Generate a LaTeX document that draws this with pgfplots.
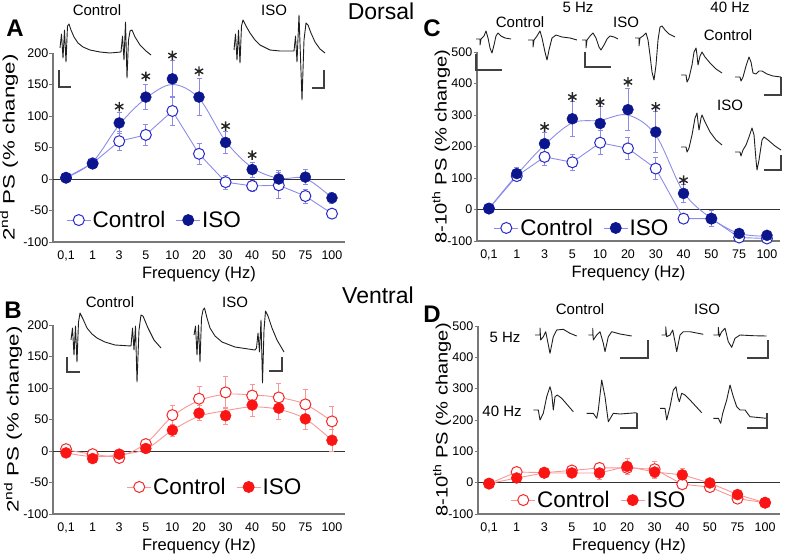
\documentclass[border=0pt]{standalone}
\usepackage{fontspec}
\setmainfont{Liberation Sans}
\usepackage{pgfplots}
\pgfplotsset{compat=1.18}
\definecolor{bdark}{RGB}{12,22,140}
\definecolor{bopen}{RGB}{40,40,200}
\definecolor{bline}{RGB}{140,140,232}
\definecolor{rdark}{RGB}{250,20,20}
\definecolor{ropen}{RGB}{245,40,40}
\definecolor{rline}{RGB}{250,150,150}
\definecolor{spinec}{RGB}{120,120,120}
\definecolor{zeroc}{RGB}{50,50,50}
\newcommand{\fs}[1]{\fontsize{#1}{#1}\selectfont}
\pgfplotsset{
 panel/.style={scale only axis, anchor=south west,
  axis x line*=bottom, axis y line*=left,
  axis line style={spinec, line width=1.4pt, -},
  xtick={0,...,10}, xticklabels={{0,1},1,3,5,10,20,30,40,50,75,100},
  xtick style={draw=none},
  ytick style={spinec, line width=1pt},
  tick align=outside, major tick length=3.5pt,
  ticklabel style={font=\fs{12.5}},
  yticklabel style={inner sep=1pt},
  xticklabel style={yshift=-2pt},
  /pgf/number format/assume math mode=true,
  xlabel={Frequency (Hz)},
  label style={font=\fs{16.5}},
  xlabel style={at={(axis description cs:0.5,-0.172)}, anchor=center},
  clip=false,
  legend columns=2,
  legend image code/.code={\draw[mark repeat=2,mark phase=2] plot coordinates {(0pt,0pt)(12pt,0pt)(24pt,0pt)};},
  legend style={draw=none, fill=none, anchor=west, inner sep=0pt,
    nodes={inner sep=1.5pt, font=\fs{22.5}},
    /tikz/every even column/.append style={column sep=9pt}},
 },
 bluel/.style={bline, line width=0.9pt, forget plot},
 redl/.style={rline, line width=0.9pt, forget plot},
 bopenm/.style={only marks, forget plot, mark=*, mark size=5.5pt, mark options={fill=white, draw=bopen, line width=1pt},
   error bars/.cd, y dir=both, y explicit, error bar style={bline, line width=0.8pt}, error mark options={rotate=90, bline, mark size=2.5pt, line width=0.8pt}},
 bfillm/.style={only marks, forget plot, mark=*, mark size=5.5pt, mark options={fill=bdark, draw=bdark},
   error bars/.cd, y dir=both, y explicit, error bar style={bline, line width=0.8pt}, error mark options={rotate=90, bline, mark size=2.5pt, line width=0.8pt}},
 ropenm/.style={only marks, forget plot, mark=*, mark size=5.5pt, mark options={fill=white, draw=ropen, line width=1pt},
   error bars/.cd, y dir=both, y explicit, error bar style={rline, line width=0.8pt}, error mark options={rotate=90, rline, mark size=2.5pt, line width=0.8pt}},
 rfillm/.style={only marks, forget plot, mark=*, mark size=5.5pt, mark options={fill=rdark, draw=rdark},
   error bars/.cd, y dir=both, y explicit, error bar style={rline, line width=0.8pt}, error mark options={rotate=90, rline, mark size=2.5pt, line width=0.8pt}},
 astm/.style={only marks, forget plot, mark=asterisk, mark size=4.8pt, mark options={black!85, line width=1.4pt}},
 tr/.style={black!88, line width=0.9pt, line join=round, forget plot},
 sb/.style={black!75, line width=1.3pt, forget plot},
}
\begin{document}
\begin{tikzpicture}[x=1pt,y=1pt]
\useasboundingbox (0,0) rectangle (791,555);

% ---------------- Panel A ----------------
\begin{axis}[panel, at={(53pt,313pt)}, width=292pt, height=189pt,
  xmin=-0.49, xmax=10.49, ymin=-100, ymax=200, ytick={-100,-50,...,200},
  ylabel={\scalebox{1.35}[1]{2\textsuperscript{nd} PS (\% change)}},
  ylabel style={at={(axis description cs:-0.151,0.5)}, anchor=center},
  legend style={at={(axis description cs:0.045,0.116)}}]
\addplot[zeroc, line width=0.9pt, forget plot] coordinates {(-0.49,0) (10.49,0)};
\addplot[bluel] coordinates {(0,2) (1,25) (2,60) (3,70) (4,108) (5,40) (6,-5) (7,-11) (8,-10) (9,-27) (10,-55)};
\addplot[bluel, smooth, tension=0.55] coordinates {(0,2) (1,27) (2,86) (3,128) (4,150) (5,128) (6,60) (7,18) (8,1) (9,1) (10,-30)};
\addplot[bopenm] coordinates {(0,2)+-(0,3) (1,25)+-(0,5) (2,60)+-(0,15) (3,70)+-(0,16) (4,108)+-(0,23) (5,40)+-(0,17) (6,-5)+-(0,11) (7,-11)+-(0,8) (8,-10)+-(0,20) (9,-27)+-(0,11) (10,-55)+-(0,5)};
\addplot[bfillm] coordinates {(0,2)+-(0,3) (1,24)+-(0,5) (2,89)+-(0,16) (3,130)+-(0,20) (4,159)+-(0,29) (5,130)+-(0,29) (6,58)+-(0,18) (7,15)+-(0,12) (8,0)+-(0,14) (9,3)+-(0,12) (10,-30)+-(0,8)};
\addplot[astm] coordinates {(2,115) (3,163) (4,196) (5,171) (6,84) (7,38)};
\addlegendimage{bline, line width=0.9pt, mark=*, mark size=5.5pt, mark options={fill=white, draw=bopen, line width=1pt}}
\addlegendentry{Control}
\addlegendimage{bline, line width=0.9pt, mark=*, mark size=5.5pt, mark options={fill=bdark, draw=bdark}}
\addlegendentry{ISO}
\end{axis}

% ---------------- Panel B ----------------
\begin{axis}[panel, at={(53pt,41pt)}, width=292pt, height=189pt,
  xmin=-0.49, xmax=10.49, ymin=-100, ymax=200, ytick={-100,-50,...,200},
  ylabel={\scalebox{1.35}[1]{2\textsuperscript{nd} PS (\% change)}},
  ylabel style={at={(axis description cs:-0.137,0.5)}, anchor=center},
  legend style={at={(axis description cs:0.252,0.143)}}]
\addplot[zeroc, line width=0.9pt, forget plot] coordinates {(-0.49,0) (10.49,0)};
\addplot[redl, smooth, tension=0.55] coordinates {(0,2) (1,-5) (2,-8) (3,12) (4,55) (5,80) (6,90) (7,89) (8,85) (9,74) (10,47)};
\addplot[redl, smooth, tension=0.55] coordinates {(0,-3) (1,-9) (2,-6) (3,3) (4,33) (5,55) (6,64) (7,70) (8,66) (9,51) (10,17)};
\addplot[ropenm] coordinates {(0,3)+-(0,3) (1,-5)+-(0,3) (2,-11)+-(0,4) (3,11)+-(0,7) (4,57)+-(0,15) (5,83)+-(0,19) (6,93)+-(0,26) (7,88)+-(0,17) (8,85)+-(0,23) (9,74)+-(0,23) (10,47)+-(0,24)};
\addplot[rfillm] coordinates {(0,-3)+-(0,3) (1,-12)+-(0,4) (2,-5)+-(0,4) (3,4)+-(0,5) (4,33)+-(0,10) (5,60)+-(0,12) (6,56)+-(0,14) (7,73)+-(0,18) (8,68)+-(0,18) (9,51)+-(0,17) (10,17)+-(0,17)};
\addlegendimage{rline, line width=0.9pt, mark=*, mark size=5.5pt, mark options={fill=white, draw=ropen, line width=1pt}}
\addlegendentry{Control}
\addlegendimage{rline, line width=0.9pt, mark=*, mark size=5.5pt, mark options={fill=rdark, draw=rdark}}
\addlegendentry{ISO}
\end{axis}

% ---------------- Panel C ----------------
\begin{axis}[panel, at={(477pt,314pt)}, width=303pt, height=189pt,
  xmin=-0.43, xmax=10.47, ymin=-100, ymax=500, ytick={-100,0,...,500},
  ylabel={\scalebox{1.22}[1]{8-10\textsuperscript{th} PS (\% change)}},
  ylabel style={at={(axis description cs:-0.119,0.5)}, anchor=center},
  legend style={at={(axis description cs:0.055,0.069)}}]
\addplot[zeroc, line width=0.9pt, forget plot] coordinates {(-0.43,0) (10.47,0)};
\addplot[bluel] coordinates {(0,3) (1,106) (2,167) (3,150) (4,212) (5,194) (6,130) (7,-29) (8,-29) (9,-89) (10,-92)};
\addplot[bluel, smooth, tension=0.55] coordinates {(0,3) (1,110) (2,205) (3,275) (4,283) (5,300) (6,236) (7,55) (8,-28) (9,-76) (10,-85)};
\addplot[bopenm] coordinates {(0,3)+-(0,3) (1,106)+-(0,10) (2,167)+-(0,28) (3,150)+-(0,25) (4,212)+-(0,38) (5,194)+-(0,35) (6,130)+-(0,35) (7,-29)+-(0,8) (8,-29)+-(0,25) (9,-89)+-(0,5) (10,-92)+-(0,5)};
\addplot[bfillm] coordinates {(0,3)+-(0,3) (1,114)+-(0,20) (2,209)+-(0,37) (3,288)+-(0,55) (4,273)+-(0,53) (5,317)+-(0,67) (6,246)+-(0,64) (7,51)+-(0,30) (8,-29)+-(0,25) (9,-76)+-(0,8) (10,-82)+-(0,8)};
\addplot[astm] coordinates {(2,262) (3,357) (4,341) (5,405) (6,326) (7,93)};
\addlegendimage{bline, line width=0.9pt, mark=*, mark size=5.5pt, mark options={fill=white, draw=bopen, line width=1pt}}
\addlegendentry{Control}
\addlegendimage{bline, line width=0.9pt, mark=*, mark size=5.5pt, mark options={fill=bdark, draw=bdark}}
\addlegendentry{ISO}
\end{axis}

% ---------------- Panel D ----------------
\begin{axis}[panel, at={(478pt,41pt)}, width=302pt, height=188pt,
  xmin=-0.4, xmax=10.54, ymin=-100, ymax=500, ytick={-100,0,...,500},
  ylabel={\scalebox{1.22}[1]{8-10\textsuperscript{th} PS (\% change)}},
  ylabel style={at={(axis description cs:-0.119,0.5)}, anchor=center},
  legend style={at={(axis description cs:0.108,0.074)}}]
\addplot[zeroc, line width=0.9pt, forget plot] coordinates {(-0.4,0) (10.54,0)};
\addplot[redl] coordinates {(0,-3) (1,34) (2,32) (3,39) (4,47) (5,47) (6,43) (7,-5) (8,-14) (9,-51) (10,-64)};
\addplot[redl] coordinates {(0,-3) (1,15) (2,31) (3,31) (4,31) (5,52) (6,34) (7,25) (8,-1) (9,-38) (10,-64)};
\addplot[ropenm] coordinates {(0,-3)+-(0,3) (1,34)+-(0,5) (2,32)+-(0,5) (3,39)+-(0,10) (4,47)+-(0,10) (5,47)+-(0,15) (6,43)+-(0,25) (7,-5)+-(0,8) (8,-14)+-(0,15) (9,-51)+-(0,8) (10,-64)+-(0,5)};
\addplot[rfillm] coordinates {(0,-3)+-(0,3) (1,15)+-(0,5) (2,31)+-(0,5) (3,31)+-(0,8) (4,31)+-(0,20) (5,52)+-(0,25) (6,34)+-(0,20) (7,25)+-(0,20) (8,-1)+-(0,10) (9,-38)+-(0,8) (10,-64)+-(0,5)};
\addlegendimage{rline, line width=0.9pt, mark=*, mark size=5.5pt, mark options={fill=white, draw=ropen, line width=1pt}}
\addlegendentry{Control}
\addlegendimage{rline, line width=0.9pt, mark=*, mark size=5.5pt, mark options={fill=rdark, draw=rdark}}
\addlegendentry{ISO}
\end{axis}

% ---------------- Overlay: traces and labels (pixel coordinates) ----------------
\begin{axis}[at={(0pt,0pt)}, anchor=south west, scale only axis, width=791pt, height=555pt,
  xmin=0, xmax=791, ymin=0, ymax=555, y dir=reverse, hide axis, clip=false]
% A control
\addplot[tr] coordinates {(60,48) (61.5,34) (63,58) (64.5,30) (66,62) (67.5,26) (69,24) (71,30) (74,37) (78,43) (83,47) (90,50) (100,52) (110,53) (121,52) (122.5,36) (124,60) (125.5,22) (127,78) (128.5,40) (130,31) (132,30) (135,37) (140,45) (146,51) (151,55)};
\addplot[sb] coordinates {(59,70) (59,87) (71,87)};
% A ISO
\addplot[tr] coordinates {(234,50) (235.5,34) (237,60) (238.5,30) (240,63) (241.5,26) (243,20) (246,26) (250,33) (255,40) (260,45) (270,50) (280,51) (294,51) (295.5,36) (297,62) (299,15) (302,100) (304,40) (306,23) (308,25) (311,33) (315,42) (320,49) (325,53)};
\addplot[sb] coordinates {(312,88) (324,88) (324,70)};
% B control
\addplot[tr] coordinates {(71,340) (72.5,328) (74,355) (75.5,326) (77,362) (78.5,322) (80,313) (83,319) (87,328) (92,334) (97,338) (105,342) (115,345) (131,346) (132.5,328) (134,350) (135.5,326) (137,382) (139,330) (141,315) (143,316) (148,328) (154,340) (161,348)};
\addplot[sb] coordinates {(67,357) (67,372) (80,372)};
% B ISO
\addplot[tr] coordinates {(194,335) (195.5,326) (197,355) (198.5,325) (200,362) (201.5,318) (203,310) (204.5,308) (207,318) (210,328) (215,336) (222,342) (235,347) (255,350) (256.5,348) (258,333) (259.5,352) (261,320) (262.5,383) (264,330) (265.5,311) (268,316) (272,328) (277,340) (284,352)};
\addplot[sb] coordinates {(269,371) (282,371) (282,357)};
% C 5 Hz control
\addplot[tr] coordinates {(476,39) (480,39) (480,45) (481,39) (484,36) (486,31) (488,38) (490,48) (492,53) (494,45) (496,36) (498,33) (501,36) (505,38) (511,39)};
\addplot[tr] coordinates {(528,40) (533,40) (533,47) (534,40) (537,36) (540,31) (542,38) (545,52) (547,60) (549,50) (552,38) (556,35) (562,37) (570,38) (577,40)};
\addplot[sb] coordinates {(476,54) (476,70) (502,70)};
% C 5 Hz ISO
\addplot[tr] coordinates {(582,40) (586,40) (586,48) (587,40) (590,36) (593,33) (596,38) (599,47) (601,50) (604,45) (607,39) (610,36) (614,37) (618,39)};
\addplot[tr] coordinates {(635,38) (639,38) (639,46) (640,38) (643,36) (646,33) (648,40) (650,55) (652,72) (654,80) (656,65) (658,40) (660,27) (662,26) (665,30) (669,34) (675,37)};
\addplot[sb] coordinates {(585,52) (585,67) (611,67)};
% C 40 Hz control
\addplot[tr] coordinates {(681,75) (686,75) (687,82) (689,78) (692,65) (694,52) (696,48) (697,55) (698,65) (700,56) (702,52) (705,57) (710,63) (716,69) (722,73)};
\addplot[tr] coordinates {(735,77) (740,77) (741,81) (743,77) (746,66) (749,57) (751,62) (753,73) (756,74) (759,71) (762,71) (767,74) (773,76) (781,77)};
\addplot[sb] coordinates {(764,95) (781,95) (781,77)};
% C 40 Hz ISO
\addplot[tr] coordinates {(681,147) (686,147) (687,152) (689,148) (692,135) (695,118) (697,113) (698,122) (699,130) (701,118) (702,115) (705,122) (710,132) (716,140) (722,145)};
\addplot[tr] coordinates {(735,152) (740,152) (741,156) (743,150) (746,145) (749,137) (752,128) (754,135) (756,160) (757,170) (759,160) (762,140) (764,137) (768,140) (775,146) (781,150)};
\addplot[sb] coordinates {(764,170) (781,170) (781,155)};
% D 5 Hz
\addplot[tr] coordinates {(535,335) (540,335) (540,328) (540.7,340) (543.3,336.7) (545.7,331.7) (547.7,341.7) (550,353.3) (553.3,336.7) (556.7,330) (563.3,329.3) (570,333.3) (576.7,336)};
\addplot[tr] coordinates {(588.3,335) (592.7,335) (592.7,328.3) (593.3,340) (596.7,335) (600,331.7) (603.3,343.3) (605,351.7) (608.3,336.7) (611.7,331.7) (620,334) (631.7,336)};
\addplot[sb] coordinates {(620,358) (648,358) (648,340)};
\addplot[tr] coordinates {(661.7,335) (665.7,335) (665.7,326.7) (666.7,336.7) (670,335) (672.7,330) (675,341.7) (676.7,351.7) (680,335) (683.3,331.7) (690,331.7) (703.3,334.3)};
\addplot[tr] coordinates {(713.3,335) (718.3,335) (718.3,327.3) (719.3,336.7) (721.7,331.7) (725,328.3) (728.3,341.7) (731.7,347.3) (735,338.3) (740,335) (753.3,335.7) (766.7,336)};
\addplot[sb] coordinates {(747,358) (768,358) (768,340)};
% D 40 Hz
\addplot[tr] coordinates {(533.3,410) (538.3,410) (540,420) (543.3,413.3) (546.7,396.7) (550,386.7) (551.7,393.3) (553.3,410) (555,396.7) (557.3,395) (561.7,398.3) (573.3,411.7)};
\addplot[tr] coordinates {(586.7,413.3) (593.3,413.3) (596.7,418.3) (598.3,410) (601.7,380) (605,396.7) (608.3,421.7) (613.3,413.3) (620,414) (636.7,412.7)};
\addplot[sb] coordinates {(620,428) (637,428) (637,413)};
\addplot[tr] coordinates {(660,408.3) (665,408.3) (666.7,420) (670,406.7) (673.3,390) (676,386.7) (677.7,396.7) (679.3,401.7) (681.7,393.3) (685,395) (690,400) (701.7,412.7)};
\addplot[tr] coordinates {(713.3,418.3) (718.3,418.3) (720.7,423.3) (722.7,413.3) (726.7,400) (730,385) (733.3,396.7) (736.7,406.7) (740,410) (745,410) (750,416.7) (766.7,418.3)};
\addplot[sb] coordinates {(747,428) (767,428) (767,413)};
% labels
\node[font=\fs{15}, inner sep=0pt] at (axis cs:97,10) {Control};
\node[font=\fs{15}, inner sep=0pt] at (axis cs:274,10) {ISO};
\node[font=\fs{23}, inner sep=0pt] at (axis cs:381,11) {Dorsal};
\node[font=\fs{24}\bfseries, inner sep=0pt] at (axis cs:15,28) {A};
\node[font=\fs{15}, inner sep=0pt] at (axis cs:110,302) {Control};
\node[font=\fs{15}, inner sep=0pt] at (axis cs:235,302) {ISO};
\node[font=\fs{23}, inner sep=0pt] at (axis cs:378,295) {Ventral};
\node[font=\fs{24}\bfseries, inner sep=0pt] at (axis cs:13,310) {B};
\node[font=\fs{15}, inner sep=0pt] at (axis cs:578,7) {5 Hz};
\node[font=\fs{15}, inner sep=0pt] at (axis cs:730,7) {40 Hz};
\node[font=\fs{15}, inner sep=0pt] at (axis cs:520,22) {Control};
\node[font=\fs{15}, inner sep=0pt] at (axis cs:626,22) {ISO};
\node[font=\fs{15}, inner sep=0pt] at (axis cs:728,35) {Control};
\node[font=\fs{15}, inner sep=0pt] at (axis cs:730,105) {ISO};
\node[font=\fs{24}\bfseries, inner sep=0pt] at (axis cs:432,28) {C};
\node[font=\fs{15}, inner sep=0pt] at (axis cs:580,309) {Control};
\node[font=\fs{15}, inner sep=0pt] at (axis cs:707,309) {ISO};
\node[font=\fs{15}, inner sep=0pt] at (axis cs:505,337) {5 Hz};
\node[font=\fs{15}, inner sep=0pt] at (axis cs:502,411) {40 Hz};
\node[font=\fs{24}\bfseries, inner sep=0pt] at (axis cs:432,314) {D};
\end{axis}
\end{tikzpicture}
\end{document}
